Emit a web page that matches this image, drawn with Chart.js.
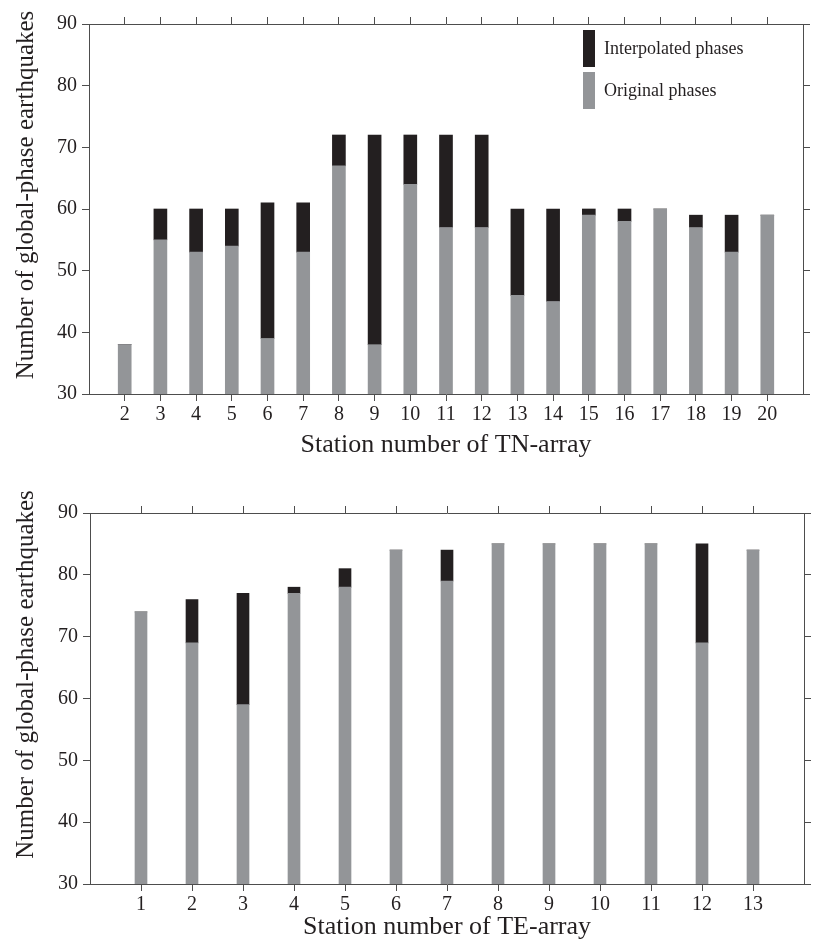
<!DOCTYPE html>
<html>
<head>
<meta charset="utf-8">
<script src="https://cdn.jsdelivr.net/npm/chart.js@4/dist/chart.umd.min.js"></script>
<style>
  html, body { margin: 0; padding: 0; background: #fff; }
  body { width: 817px; height: 952px; position: relative; overflow: hidden; }
  .box { position: absolute; left: 0; width: 817px; }
  #b1 { top: 0; height: 470px; }
  #b2 { top: 480px; height: 472px; }
</style>
</head>
<body>
<div class="box" id="b1"><canvas id="c1"></canvas></div>
<div class="box" id="b2"><canvas id="c2"></canvas></div>
<script>
// ---- Data ----
const tnStations = [2,3,4,5,6,7,8,9,10,11,12,13,14,15,16,17,18,19,20];
const tnOriginal = [38,55,53,54,39,53,67,38,64,57,57,46,45,59,58,60,57,53,59];
const tnInterpolated = [0,5,7,6,22,8,5,34,8,15,15,14,15,1,2,0,2,6,0];

const teStations = [1,2,3,4,5,6,7,8,9,10,11,12,13];
const teOriginal = [74,69,59,77,78,84,79,85,85,85,85,69,84];
const teInterpolated = [0,7,18,1,3,0,5,0,0,0,0,16,0];

const yTicks = [30,40,50,60,70,80,90];
const yTitle = 'Number of global-phase earthquakes';
const legendLabels = ['Interpolated phases', 'Original phases'];

const GRAY = '#939598';
const BLACK = '#231f20';
const AXIS = '#4d4d4d';
const TEXT = '#231f20';
const SERIF = '"Liberation Serif", "DejaVu Serif", serif';

Chart.defaults.font.family = SERIF;
Chart.defaults.color = TEXT;

function makeChart(canvasId, stations, original, interpolated, xTitle, geom, withLegend) {
  const grayData = stations.map((s, i) => ({ x: s, y: [30, original[i]] }));
  const blackData = stations.map((s, i) => ({ x: s, y: [original[i], original[i] + interpolated[i]] }));

  const fixTicks = (scale) => { scale.ticks = stations.map(v => ({ value: v })); };
  const fixYTicks = (scale) => { scale.ticks = yTicks.map(v => ({ value: v })); };

  const gridCommon = { display: true, drawOnChartArea: false, drawTicks: true, tickLength: 7, color: AXIS, lineWidth: 1, offset: false };
  const borderCommon = { display: true, color: AXIS, width: 1 };

  const decorPlugin = {
    id: 'decor',
    afterDraw(chart) {
      const ctx = chart.ctx;
      const ca = chart.chartArea;
      ctx.save();
      // rotated y-axis title
      ctx.translate(geom.yTitleX, (ca.top + ca.bottom) / 2 - geom.yTitleShift);
      ctx.rotate(-Math.PI / 2);
      ctx.fillStyle = TEXT;
      ctx.font = '25px ' + SERIF;
      ctx.textAlign = 'center';
      ctx.textBaseline = 'middle';
      ctx.fillText(yTitle, 0, 0);
      ctx.restore();

      if (!withLegend) return;
      const x0 = ca.right - 220;
      const items = [
        { color: BLACK, label: legendLabels[0], top: ca.top + 6 },
        { color: GRAY, label: legendLabels[1], top: ca.top + 48 }
      ];
      ctx.save();
      items.forEach(it => {
        ctx.fillStyle = it.color;
        ctx.fillRect(x0, it.top, 12, 37);
        ctx.fillStyle = TEXT;
        ctx.font = '18px ' + SERIF;
        ctx.textAlign = 'left';
        ctx.textBaseline = 'middle';
        ctx.fillText(it.label, x0 + 21, it.top + 19);
      });
      ctx.restore();
    }
  };

  return new Chart(document.getElementById(canvasId), {
    type: 'bar',
    data: {
      datasets: [
        { label: legendLabels[1], data: grayData, backgroundColor: GRAY, barThickness: geom.bar, grouped: false, borderWidth: 0 },
        { label: legendLabels[0], data: blackData, backgroundColor: BLACK, barThickness: geom.bar, grouped: false, borderWidth: 0 }
      ]
    },
    options: {
      responsive: true,
      maintainAspectRatio: false,
      animation: false,
      events: [],
      layout: { padding: 0 },
      plugins: { legend: { display: false }, tooltip: { enabled: false } },
      scales: {
        x: {
          type: 'linear', position: 'bottom', min: geom.xmin, max: geom.xmax, offset: false,
          afterBuildTicks: fixTicks,
          afterFit: (s) => { s.height = geom.bottomH; },
          grid: gridCommon, border: borderCommon,
          ticks: { font: { size: 20 }, padding: 2, color: TEXT, maxRotation: 0, autoSkip: false },
          title: { display: true, text: xTitle, font: { size: 26 }, color: TEXT, padding: { top: 0, bottom: 9 } }
        },
        xTop: {
          type: 'linear', position: 'top', min: geom.xmin, max: geom.xmax, offset: false,
          afterBuildTicks: fixTicks,
          afterFit: (s) => { s.height = geom.topH; },
          grid: gridCommon, border: borderCommon,
          ticks: { display: false }
        },
        y: {
          type: 'linear', position: 'left', min: 30, max: 90,
          afterBuildTicks: fixYTicks,
          afterFit: (s) => { s.width = geom.leftW; },
          grid: gridCommon, border: borderCommon,
          ticks: { font: { size: 20 }, padding: 5, color: TEXT }
        },
        yRight: {
          type: 'linear', position: 'right', min: 30, max: 90,
          afterBuildTicks: fixYTicks,
          afterFit: (s) => { s.width = geom.rightW; },
          grid: gridCommon, border: borderCommon,
          ticks: { display: false }
        }
      }
    },
    plugins: [decorPlugin]
  });
}

makeChart('c1', tnStations, tnOriginal, tnInterpolated, 'Station number of TN-array',
  { xmin: 1, xmax: 21, bar: 13, topH: 24, bottomH: 76, leftW: 89, rightW: 14, yTitleX: 26, yTitleShift: 14 }, true);
makeChart('c2', teStations, teOriginal, teInterpolated, 'Station number of TE-array',
  { xmin: 0, xmax: 14, bar: 12, topH: 33, bottomH: 68, leftW: 90, rightW: 13, yTitleX: 26, yTitleShift: 24 }, false);
</script>
</body>
</html>
